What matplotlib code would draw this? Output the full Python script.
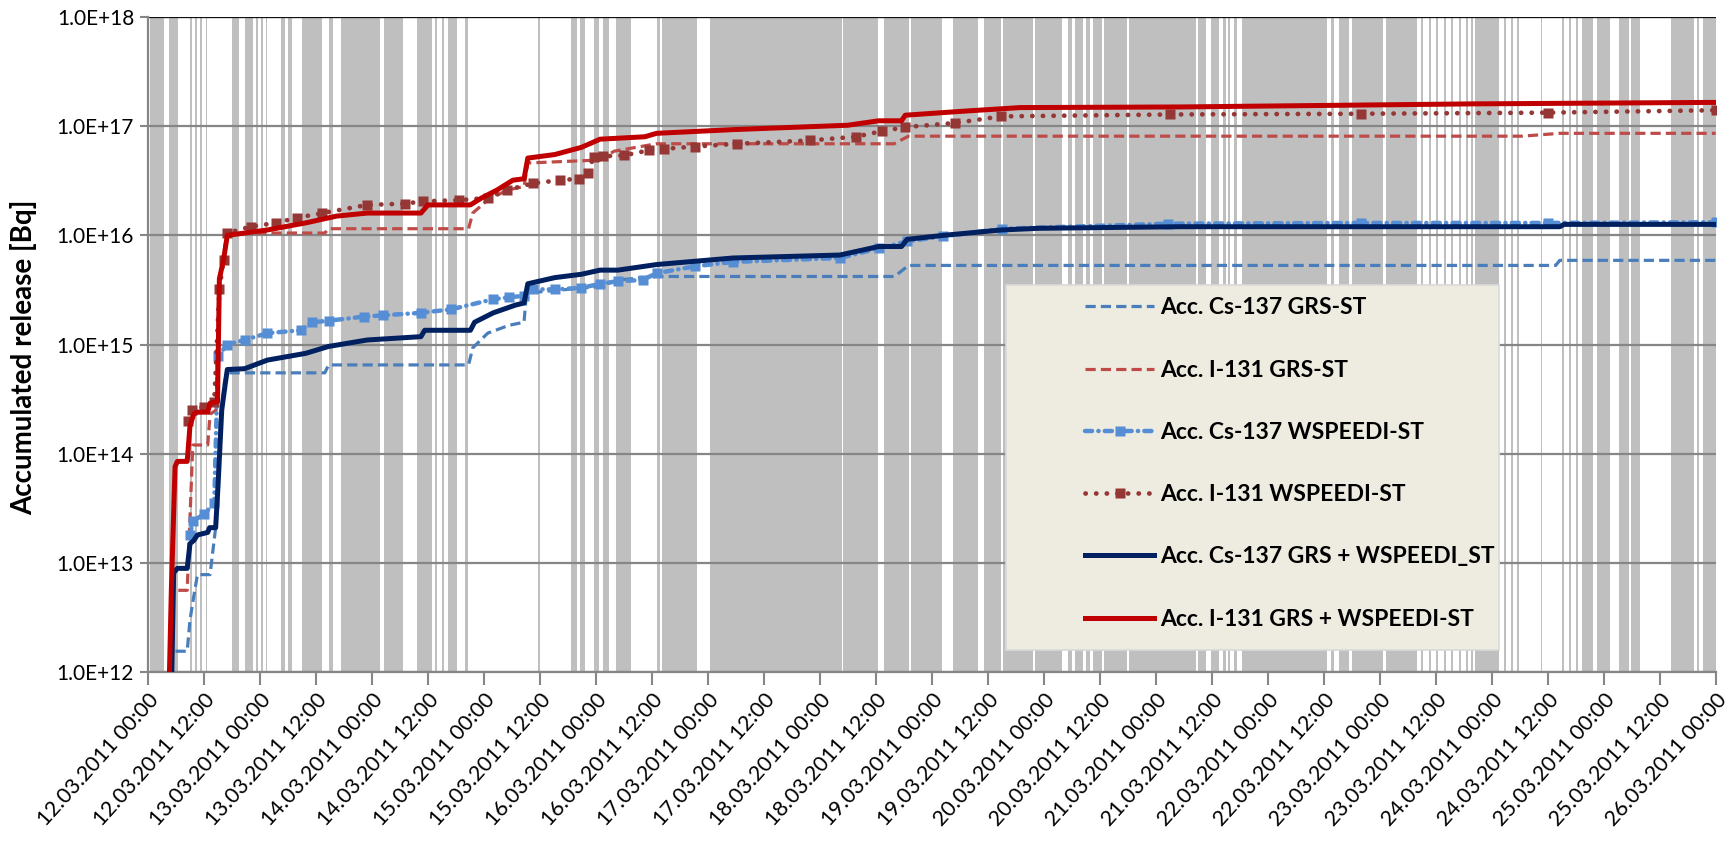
import matplotlib
matplotlib.use('Agg')
import matplotlib.pyplot as plt
import matplotlib.dates as mdates
from matplotlib.patches import Rectangle
import numpy as np
import pandas as pd

plt.rcParams['font.family'] = ['Lato', 'DejaVu Sans']

# ─── Data (time in hours after 12.03.2011 00:00) ─────────────────────────────
T0 = pd.Timestamp('2011-03-12 00:00')

# Acc. I-131 GRS + WSPEEDI-ST
i131_comb_t = [4.6, 5.0, 5.8, 6.3, 8.4, 9.0, 9.8, 10.5, 12.8, 13.3, 14.9, 15.3, 16.2, 17.0,
               25.6, 33.8, 40.4, 47.0, 58.5, 60.0, 69.1, 71.5, 74.8, 78.2, 80.6, 81.4,
               87.2, 92.9, 96.9, 106.5, 109.0, 125.4, 150.0, 156.6, 161.5, 162.3, 174.6,
               186.9, 221.3, 253.0, 283.5, 334.4, 336.0]
i131_comb_v = [1e12, 5.6e12, 7.6e13, 8.5e13, 8.5e13, 1.8e14, 2.3e14, 2.4e14, 2.4e14, 2.9e14,
               3.0e14, 4.0e15, 6.0e15, 1.0e16, 1.12e16, 1.3e16, 1.5e16, 1.6e16, 1.6e16,
               1.9e16, 1.9e16, 2.2e16, 2.6e16, 3.2e16, 3.3e16, 5.1e16, 5.5e16, 6.4e16,
               7.6e16, 8.0e16, 8.6e16, 9.3e16, 1.02e17, 1.12e17, 1.12e17, 1.26e17, 1.37e17,
               1.48e17, 1.50e17, 1.55e17, 1.6e17, 1.65e17, 1.65e17]

# Acc. I-131 GRS-ST
i131_grs_t = [6.5, 8.4, 9.6, 10.6, 12.8, 13.3, 14.6, 15.2, 16.0, 17.0, 37.9, 38.7, 68.7,
              69.6, 72.8, 77.0, 80.6, 81.4, 96.9, 99.9, 109.0, 159.9, 163.0, 294.5, 302.6, 336.0]
i131_grs_v = [5.6e12, 5.6e12, 1.2e14, 1.2e14, 1.2e14, 2.3e14, 2.5e14, 3e15, 6e15, 1.05e16,
              1.05e16, 1.15e16, 1.15e16, 1.6e16, 2.1e16, 2.6e16, 2.8e16, 4.6e16, 4.9e16,
              5.9e16, 6.9e16, 6.9e16, 8.1e16, 8.1e16, 8.6e16, 8.6e16]

# Acc. I-131 WSPEEDI-ST
i131_wsp_t = [8.6, 9.4, 12.0, 14.2, 15.3, 16.2, 17.0, 22.0, 27.4, 32.0, 37.4, 47.0, 55.0,
              59.0, 66.7, 72.8, 76.9, 82.6, 88.3, 92.3, 94.2, 95.5, 97.5, 102.0, 107.3,
              110.6, 117.2, 126.2, 141.8, 151.7, 157.3, 162.3, 173.0, 182.9, 219.0, 260.0,
              300.0, 336.0]
i131_wsp_v = [2.0e14, 2.5e14, 2.7e14, 3.0e14, 3.2e15, 6e15, 1.05e16, 1.2e16, 1.3e16, 1.45e16,
              1.6e16, 1.9e16, 1.95e16, 2.05e16, 2.1e16, 2.2e16, 2.6e16, 3.0e16, 3.2e16,
              3.3e16, 3.7e16, 5.2e16, 5.3e16, 5.4e16, 6.0e16, 6.2e16, 6.5e16, 6.9e16,
              7.4e16, 8.0e16, 9.0e16, 9.8e16, 1.07e17, 1.23e17, 1.28e17, 1.3e17, 1.33e17, 1.4e17]

# Acc. Cs-137 GRS + WSPEEDI_ST
cs137_comb_t = [5.1, 5.5, 6.3, 8.4, 9.0, 9.8, 10.6, 12.8, 13.2, 14.5, 15.0, 15.8, 16.6, 17.0,
                20.7, 25.6, 33.8, 38.7, 47.0, 58.5, 59.3, 69.1, 70.0, 74.0, 78.8, 80.6, 81.4,
                87.2, 92.9, 96.9, 100.7, 109.0, 125.4, 148.3, 156.6, 161.5, 162.7, 170.5,
                182.9, 191.0, 221.3, 302.6, 303.5, 336.0]
cs137_comb_v = [1e12, 8.1e12, 8.9e12, 8.9e12, 1.5e13, 1.6e13, 1.8e13, 1.9e13, 2.1e13, 2.1e13,
                5e13, 2.5e14, 4.5e14, 5.9e14, 6.0e14, 7.2e14, 8.3e14, 9.6e14, 1.1e15, 1.18e15,
                1.35e15, 1.35e15, 1.6e15, 1.95e15, 2.3e15, 2.4e15, 3.6e15, 4.1e15, 4.4e15,
                4.8e15, 4.8e15, 5.4e15, 6.2e15, 6.6e15, 7.9e15, 7.9e15, 9.2e15, 1.0e16,
                1.12e16, 1.16e16, 1.2e16, 1.2e16, 1.26e16, 1.26e16]

# Acc. Cs-137 GRS-ST
cs137_grs_t = [5.9, 8.4, 9.0, 9.8, 10.6, 13.3, 14.5, 15.5, 16.4, 17.0, 37.9, 38.7, 68.7, 69.6,
               72.8, 77.4, 80.6, 81.0, 82.6, 96.9, 100.7, 109.0, 160.0, 163.0, 301.7, 302.6, 336.0]
cs137_grs_v = [1.55e12, 1.55e12, 3.0e12, 4.9e12, 7.8e12, 7.8e12, 2.1e13, 2.0e14, 4.5e14, 5.5e14,
               5.5e14, 6.5e14, 6.5e14, 9.3e14, 1.27e15, 1.5e15, 1.6e15, 2.6e15, 3.0e15, 3.4e15,
               3.9e15, 4.2e15, 4.2e15, 5.3e15, 5.3e15, 5.9e15, 5.9e15]

# Acc. Cs-137 WSPEEDI-ST
cs137_wsp_t = [9.0, 9.6, 12.0, 14.2, 15.0, 17.0, 20.7, 25.6, 32.7, 35.2, 38.7, 46.2, 50.3,
               58.5, 65.0, 74.0, 77.4, 80.6, 82.6, 87.2, 92.9, 96.9, 100.7, 106.0, 109.0,
               117.2, 125.4, 148.3, 156.6, 162.7, 170.5, 183.0, 218.7, 260.0, 300.0, 336.0]
cs137_wsp_v = [1.8e13, 2.4e13, 2.8e13, 3.5e13, 7.8e14, 1.0e15, 1.1e15, 1.27e15, 1.35e15,
               1.6e15, 1.65e15, 1.8e15, 1.85e15, 1.95e15, 2.1e15, 2.6e15, 2.7e15, 2.8e15,
               3.2e15, 3.2e15, 3.3e15, 3.6e15, 3.8e15, 3.9e15, 4.5e15, 5.2e15, 5.7e15,
               6.2e15, 7.6e15, 8.8e15, 9.8e15, 1.15e16, 1.28e16, 1.3e16, 1.3e16, 1.32e16]

# shaded periods (hours)
band_start = [0.5, 4.6, 9.0, 10.1, 11.2, 12.4, 17.9, 20.7, 23.2, 24.3, 25.3, 28.4, 29.9, 33.1,
              38.9, 41.3, 50.5, 57.6, 61.6, 63.1, 64.2, 67.9, 83.5, 90.6, 92.5, 95.5, 97.5,
              100.3, 109.1, 110.1, 120.4, 149.0, 157.8, 163.6, 172.6, 179.2, 183.3, 190.2,
              197.2, 198.7, 201.1, 202.6, 205.0, 210.3, 225.1, 227.9, 230.4, 231.4, 232.8,
              234.4, 253.5, 255.2, 258.0, 265.4, 272.8, 274.5, 276.0, 277.7, 279.3, 281.0,
              282.5, 283.6, 284.5, 290.6, 292.1, 293.4, 298.5, 303.0, 304.5, 306.0, 307.3,
              310.5, 315.2, 317.8, 326.4, 332.0, 333.2]
band_end = [3.5, 6.5, 9.4, 10.4, 11.5, 12.7, 19.6, 22.6, 23.6, 24.7, 25.6, 29.3, 30.8, 37.4,
            39.6, 49.7, 54.6, 60.8, 62.0, 63.5, 66.2, 68.5, 84.0, 91.9, 93.6, 96.6, 98.8,
            103.5, 109.7, 117.7, 148.8, 156.4, 163.1, 170.2, 177.9, 182.9, 189.7, 195.9,
            198.1, 200.4, 201.9, 204.5, 209.9, 224.7, 226.8, 229.6, 231.0, 232.0, 233.4,
            252.8, 254.3, 257.5, 264.6, 271.9, 273.3, 275.0, 276.5, 278.2, 279.8, 281.5,
            283.0, 284.0, 289.5, 291.0, 292.5, 293.8, 298.8, 303.4, 304.9, 306.4, 309.7,
            313.3, 317.4, 319.8, 331.3, 332.5, 336.0]


def to_dates(hours):
    return mdates.date2num(T0 + pd.to_timedelta(np.asarray(hours, dtype=float), unit='h'))


# ─── Figure ──────────────────────────────────────────────────────────────────
fig = plt.figure(figsize=(17.33, 8.42), dpi=100)
ax = fig.add_axes([0.0854, 0.2019, 0.9046, 0.7779])

for s, e in zip(to_dates(band_start), to_dates(band_end)):
    ax.axvspan(s, e, color='#BFBFBF', lw=0, zorder=0)

ax.set_yscale('log')
ax.set_ylim(1e12, 1e18)
ax.set_xlim(to_dates([0])[0], to_dates([336])[0])
ax.grid(axis='y', which='major', color='#868686', lw=1.6, zorder=1)
ax.grid(axis='x', visible=False)
ax.axhline(1e18, color='#111111', lw=1.6, zorder=2)

dash = dict(dashes=(3.2, 1.6))
ax.plot(to_dates(cs137_grs_t), cs137_grs_v, color='#4A7EBB', lw=2.3, **dash, zorder=3,
        label='Acc. Cs-137 GRS-ST')
ax.plot(to_dates(i131_grs_t), i131_grs_v, color='#BE4B48', lw=2.3, **dash, zorder=3,
        label='Acc. I-131 GRS-ST')
ax.plot(to_dates(cs137_wsp_t), cs137_wsp_v, color='#558ED5', lw=3.2,
        dashes=(1.6, 1.4, 0.05, 1.4), dash_capstyle='round',
        marker='s', ms=7, mec='none', zorder=4, label='Acc. Cs-137 WSPEEDI-ST')
ax.plot(to_dates(i131_wsp_t), i131_wsp_v, color='#953735', lw=3.4,
        dashes=(0.05, 2.2), dash_capstyle='round',
        marker='s', ms=7, mec='none', zorder=4, label='Acc. I-131 WSPEEDI-ST')
ax.plot(to_dates(cs137_comb_t), cs137_comb_v, color='#002060', lw=3.6, zorder=5,
        label='Acc. Cs-137 GRS + WSPEEDI_ST')
ax.plot(to_dates(i131_comb_t), i131_comb_v, color='#C00000', lw=3.6, zorder=5,
        label='Acc. I-131 GRS + WSPEEDI-ST')

# ─── Axes styling ────────────────────────────────────────────────────────────
ax.set_yticks([1e12, 1e13, 1e14, 1e15, 1e16, 1e17, 1e18])
ax.yaxis.set_minor_locator(matplotlib.ticker.NullLocator())
ax.yaxis.set_major_formatter(matplotlib.ticker.FuncFormatter(
    lambda v, p: f"1.0E+{int(round(np.log10(v)))}"))
ax.xaxis.set_major_locator(mdates.HourLocator(byhour=[0, 12]))
ax.xaxis.set_major_formatter(mdates.DateFormatter('%d.%m.%Y %H:%M'))
ax.tick_params(axis='x', length=9, width=1.5, color='#868686', labelsize=15.5, pad=4)
ax.tick_params(axis='y', length=6, width=1.5, color='#868686', labelsize=15, pad=4)
plt.setp(ax.get_xticklabels(), rotation=48, ha='right', rotation_mode='anchor')
for side in ('top', 'right'):
    ax.spines[side].set_visible(False)
for side in ('left', 'bottom'):
    ax.spines[side].set_color('#868686')
    ax.spines[side].set_linewidth(1.6)

ax.set_ylabel('Accumulated release [Bq]', fontsize=20, fontweight='bold')
ax.yaxis.set_label_coords(-0.071, 0.48)

# legend box drawn separately so the entries can sit inset from its left edge
ax.add_patch(Rectangle((0.547, 0.034), 0.315, 0.557, transform=ax.transAxes,
                       fc='#EEECE1', ec='#D9D9D9', lw=1.2, zorder=9))
leg = ax.legend(loc='upper left', bbox_to_anchor=(0.598, 0.572), frameon=False,
                prop={'weight': 'bold', 'size': 16.5}, handlelength=3.0, numpoints=1,
                labelspacing=1.8, handletextpad=0.25, borderpad=0, borderaxespad=0)
leg.set_zorder(10)

fig.savefig('out.png', dpi=100, facecolor='white')
